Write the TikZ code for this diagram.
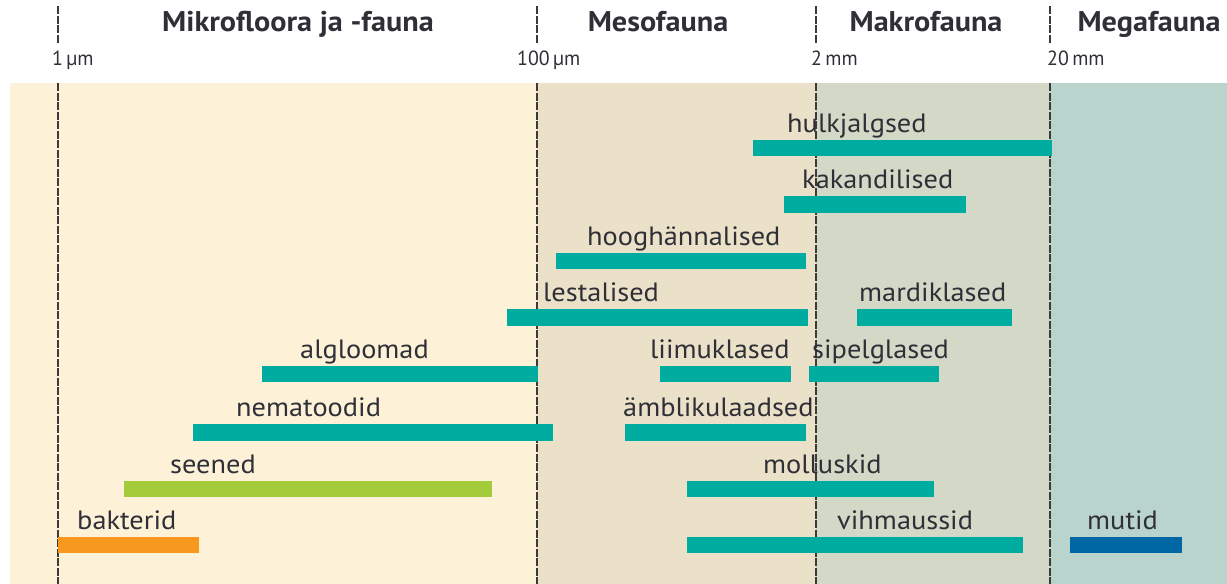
\documentclass[tikz,border=0pt]{standalone}
\usepackage{fontspec}
\setmainfont{PT Sans}
\newfontfamily\lblfont[FakeStretch=1.07]{PT Sans}
\newfontfamily\headfont[FakeStretch=1.06]{PT Sans}
\newfontfamily\scfont[FakeStretch=0.97]{PT Sans}
\definecolor{bandA}{HTML}{FDF2D8}
\definecolor{bandB}{HTML}{EAE1C8}
\definecolor{bandC}{HTML}{D3D9C6}
\definecolor{bandD}{HTML}{B9D4CC}
\definecolor{tealbar}{HTML}{00AC9F}
\definecolor{greenbar}{HTML}{A3CB3A}
\definecolor{orangebar}{HTML}{F7991F}
\definecolor{bluebar}{HTML}{0067A5}
\definecolor{txt}{HTML}{2F2F38}
\definecolor{linec}{HTML}{3A3A3A}
\begin{document}
\begin{tikzpicture}[x=1pt,y=-1pt,
  lbl/.style={anchor=base west, inner sep=0pt, text=txt, font=\lblfont\fontsize{26.5}{30}\selectfont},
  head/.style={anchor=base, inner sep=0pt, text=txt, font=\headfont\bfseries\fontsize{28.5}{32}\selectfont},
  scalelbl/.style={anchor=base west, inner sep=0pt, text=txt, font=\scfont\fontsize{20.5}{24}\selectfont},
  divider/.style={draw=linec, line width=1.4pt, dash pattern=on 8pt off 1.5pt},
  tbar/.style={fill=tealbar},
]
\useasboundingbox (0,0) rectangle (1227,584);
\fill[white] (0,0) rectangle (1227,584);
% bands
\fill[bandA] (10,83) rectangle (537,584);
\fill[bandB] (537,83) rectangle (816,584);
\fill[bandC] (816,83) rectangle (1050,584);
\fill[bandD] (1050,83) rectangle (1227,584);
% dividers
\foreach \x/\n in {58/a,537/b,816/c,1050/d}{
  \coordinate (top\n) at (\x,6);
  \coordinate (mid\n) at (\x,44);
  \coordinate (bnd\n) at (\x,83);
  \coordinate (bot\n) at (\x,584);
  \draw[divider] (top\n) -- (mid\n);
  \draw[divider] (bnd\n) -- (bot\n);
}
% headers
\node[head] (h1) at (298,31) {Mikrofloora ja -fauna};
\node[head] (h2) at (658,31) {Mesofauna};
\node[head] (h3) at (926,31) {Makrofauna};
\node[head] (h4) at (1149,31) {Megafauna};
% scale labels
\node[scalelbl] (s1) at (52,65) {1\,µm};
\node[scalelbl] (s2) at (517,65) {100\,µm};
\node[scalelbl] (s3) at (811,65) {2\,mm};
\node[scalelbl] (s4) at (1047,65) {20\,mm};
% bars
\fill[tbar] (753,140) rectangle (1052,156);
\fill[tbar] (784,196) rectangle (966,213);
\fill[tbar] (556,253) rectangle (806,269);
\fill[tbar] (507,309) rectangle (808,326);
\fill[tbar] (857,309) rectangle (1012,326);
\fill[tbar] (262,366) rectangle (538,382);
\fill[tbar] (660,366) rectangle (791,382);
\fill[tbar] (809,366) rectangle (939,382);
\fill[tbar] (193,424) rectangle (553,441);
\fill[tbar] (625,424) rectangle (806,441);
\fill[greenbar] (124,481) rectangle (492,497);
\fill[tbar] (687,481) rectangle (934,497);
\fill[orangebar] (58,537) rectangle (199,553);
\fill[tbar] (687,537) rectangle (1023,553);
\fill[bluebar] (1070,537) rectangle (1182,553);
% labels
\node[lbl] (l1) at (787,132) {hulkjalgsed};
\node[lbl] (l2) at (802,188) {kakandilised};
\node[lbl] (l3) at (587,245) {hooghännalised};
\node[lbl] (l4) at (543,301) {lestalised};
\node[lbl] (l5) at (859,301) {mardiklased};
\node[lbl] (l6) at (300,358) {algloomad};
\node[lbl] (l7) at (650,358) {liimuklased};
\node[lbl] (l8) at (812,358) {sipelglased};
\node[lbl] (l9) at (236,416) {nematoodid};
\node[lbl] (l10) at (623,416) {ämblikulaadsed};
\node[lbl] (l11) at (170,473) {seened};
\node[lbl] (l12) at (763,473) {molluskid};
\node[lbl] (l13) at (77,529) {bakterid};
\node[lbl] (l14) at (837,529) {vihmaussid};
\node[lbl] (l15) at (1087,529) {mutid};
\end{tikzpicture}
\end{document}
